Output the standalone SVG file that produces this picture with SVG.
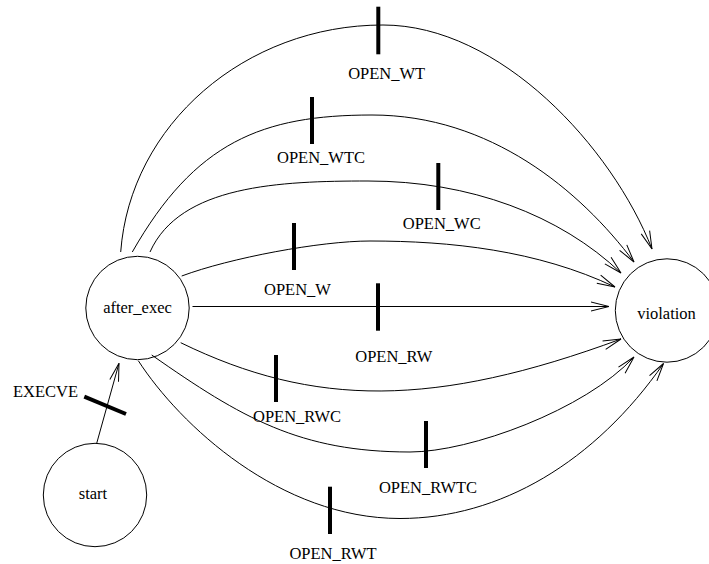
<svg xmlns="http://www.w3.org/2000/svg" width="709" height="564" viewBox="0 0 709 564">
<style>
.bg{fill:#fff}
.node{fill:none;stroke:#000;stroke-width:1}
.edge{fill:none;stroke:#000;stroke-width:1;marker-end:url(#arr)}
.tick{stroke:#000;stroke-width:4}
text{font-family:"Liberation Serif","Times New Roman",serif;font-size:16.5px;fill:#000;text-anchor:middle}
</style>
<defs>
<marker id="arr" viewBox="-20 -6 21 12" markerWidth="21" markerHeight="12" refX="0" refY="0" orient="auto" markerUnits="userSpaceOnUse">
<path d="M-18,-4.5 L0,0 L-18,4.5" fill="none" stroke="#000" stroke-width="1"/>
</marker>
</defs>
<rect class="bg" x="0" y="0" width="709" height="564"/>
<g id="connectors">
<g id="e_execve">
<path class="edge" d="M96.7,443.3 L119,363.3"/>
<line class="tick" x1="84.3" y1="396.7" x2="126" y2="414"/>
<text x="45.5" y="396.5">EXECVE</text>
</g>
<g id="e_open_wt">
<path class="edge" d="M120.7,252 C130,125 245,25 383,25 C500,25 612,147 652,249"/>
<line class="tick" x1="378.3" y1="6.7" x2="378.3" y2="54.3"/>
<text x="386.7" y="79">OPEN_WT</text>
</g>
<g id="e_open_wtc">
<path class="edge" d="M132.3,252 C195,142 262,115 372,115 C490,115 580,190 634,262"/>
<line class="tick" x1="312" y1="97" x2="312" y2="144"/>
<text x="321" y="163.3">OPEN_WTC</text>
</g>
<g id="e_open_wc">
<path class="edge" d="M150,252 C180,185 280,181 368,181 C470,181 560,215 621,273"/>
<line class="tick" x1="438.3" y1="163" x2="438.3" y2="210"/>
<text x="441.7" y="229">OPEN_WC</text>
</g>
<g id="e_open_w">
<path class="edge" d="M181.7,276 C230,258 320,241 370,241 C450,241 537,250 615,287"/>
<line class="tick" x1="294" y1="223" x2="294" y2="270"/>
<text x="297.5" y="295">OPEN_W</text>
</g>
<g id="e_open_rw">
<path class="edge" d="M192.5,306.5 L609,306.5"/>
<line class="tick" x1="378" y1="283.3" x2="378" y2="330.7"/>
<text x="393.8" y="361.7">OPEN_RW</text>
</g>
<g id="e_open_rwc">
<path class="edge" d="M180.7,342.7 C314,407.7 435,407.7 621,339"/>
<line class="tick" x1="276" y1="355" x2="276" y2="402"/>
<text x="297" y="421.7">OPEN_RWC</text>
</g>
<g id="e_open_rwtc">
<path class="edge" d="M151.7,355 C241.7,418 300,452 410,452 C470,452 585,410 634,357"/>
<line class="tick" x1="426" y1="421" x2="426" y2="468"/>
<text x="428" y="493">OPEN_RWTC</text>
</g>
<g id="e_open_rwt">
<path class="edge" d="M138.3,360.7 C180,425 280,518.5 400,518.5 C500,518.5 595,462 663.5,363.5"/>
<line class="tick" x1="330" y1="486.7" x2="330" y2="534"/>
<text x="333" y="559">OPEN_RWT</text>
</g>
</g>
<g id="after_exec">
<circle class="node" cx="137.5" cy="308" r="51.7"/>
<text x="137.5" y="313">after_exec</text>
</g>
<g id="violation">
<circle class="node" cx="667" cy="310.5" r="51.7"/>
<text x="666.5" y="319">violation</text>
</g>
<g id="start">
<circle class="node" cx="95" cy="495" r="51.7"/>
<text x="93" y="499.3">start</text>
</g>
</svg>
